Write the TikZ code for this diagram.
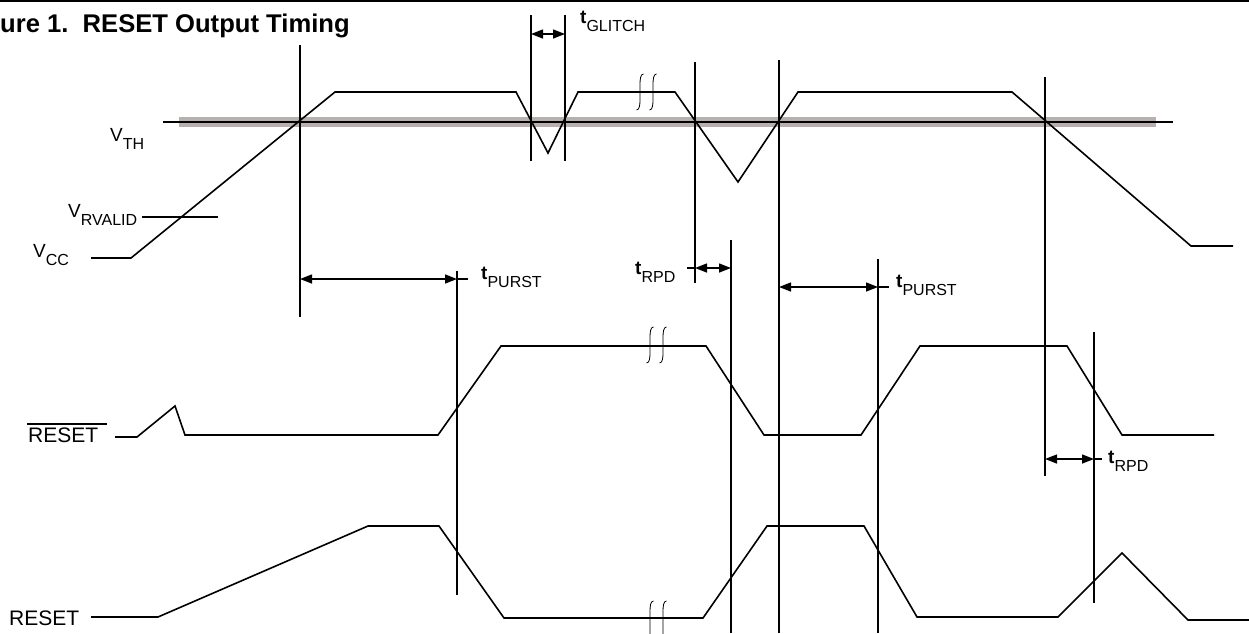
\documentclass[tikz,border=0pt]{standalone}
\usepackage{fontspec}
\setmainfont{Liberation Sans}
\usetikzlibrary{arrows.meta}
\newcommand\msub[2]{#1\raisebox{-8pt}{\fontsize{16}{16}\selectfont #2}}
\newcommand\tsub[2]{\textbf{#1}\raisebox{-8pt}{\fontsize{16}{16}\selectfont #2}}
\definecolor{bandgray}{RGB}{184,176,176}
\tikzset{
  wave/.style={line width=1.6pt, line join=miter},
  vline/.style={line width=1.6pt},
  dim/.style={line width=1.4pt, {Triangle[length=12pt,width=9pt]}-{Triangle[length=12pt,width=9pt]}},
  ext/.style={line width=1.4pt},
  lbl/.style={anchor=base west, inner sep=0pt, font=\fontsize{19}{19}\selectfont},
  big/.style={anchor=base west, inner sep=0pt, font=\fontsize{21}{21}\selectfont},
  brk/.style={line width=0.8pt}
}
\newcommand\breakmark[3]{%
  \draw[brk] (#1+3.5,#2) .. controls (#1+0.5,#2) and (#1,#2+5) .. (#1,#2+11) -- (#1,#3-11) .. controls (#1,#3-5) and (#1-0.5,#3) .. (#1-3.5,#3);}
\begin{document}
\begin{tikzpicture}[x=1pt,y=-1pt]
\useasboundingbox (0,0) rectangle (1249,633);
% top rule and title
\draw[line width=2pt] (0,1) -- (1249,1);
\node[anchor=base west, inner sep=0pt, font=\fontsize{25.6}{26}\selectfont\bfseries] (title) at (0,32) {ure 1.\ \ RESET Output Timing};

% threshold band
\fill[bandgray] (179,117) rectangle (1156,127);
\draw[line width=1.5pt] (163,122) -- (1173,122);

% labels
\node[lbl] (vth) at (110,141) {\msub{V}{TH}};
\node[lbl] (vrv) at (68,217) {\msub{V}{RVALID}};
\node[lbl] (vcc) at (33,257) {\msub{V}{CC}};
\node[big] (rstb) at (28,442) {RESET};
\draw[line width=1.3pt] (27,424) -- (107,424);
\node[big] (rst) at (9,625) {RESET};

% VRVALID level
\draw[line width=1.5pt] (142,217) -- (218,217);

% VCC waveform
\draw[wave] (91,258) -- (131,258) -- (335,92) -- (516,92) -- (548,153) -- (578,92)
  -- (675,92) -- (738,182) -- (798,92) -- (1012,92) -- (1191,246) -- (1233,246);
\breakmark{640}{74}{110}
\breakmark{653}{74}{110}

% RESET-bar waveform
\draw[wave] (115,437) -- (137,437) -- (175,406) -- (185,435) -- (438,435) -- (501,346)
  -- (706,346) -- (764,435) -- (861,435) -- (920,346) -- (1067,346) -- (1122,435) -- (1214,435);
\breakmark{650}{327}{363}
\breakmark{663}{327}{363}

% RESET waveform
\draw[wave] (91,617) -- (158,617) -- (368,526) -- (439,526) -- (504,618) -- (703,618)
  -- (767,526) -- (864,526) -- (917,617) -- (1058,617) -- (1122,553) -- (1188,620) -- (1249,620);
\breakmark{650}{601}{642}
\breakmark{663}{601}{642}

% vertical reference lines
\coordinate (a1) at (300,45);   \coordinate (a2) at (300,317);
\coordinate (g1) at (531,15);   \coordinate (g2) at (531,161);
\coordinate (h1) at (565,15);   \coordinate (h2) at (565,161);
\coordinate (p1) at (457,271);  \coordinate (p2) at (457,595);
\coordinate (r1) at (695,62);   \coordinate (r2) at (695,283);
\coordinate (s1) at (731,240);  \coordinate (s2) at (731,633);
\coordinate (b1) at (779,60);   \coordinate (b2) at (779,633);
\coordinate (q1) at (878,259);  \coordinate (q2) at (878,633);
\coordinate (c1) at (1045,77);  \coordinate (c2) at (1045,476);
\coordinate (d1) at (1094,332); \coordinate (d2) at (1094,603);
\foreach \u/\w in {a1/a2,g1/g2,h1/h2,p1/p2,r1/r2,s1/s2,b1/b2,q1/q2,c1/c2,d1/d2}
  \draw[vline] (\u) -- (\w);

% dimension arrows
\draw[dim] (531,34) -- (565,34);
\node[lbl] (tg) at (580,23) {\tsub{t}{GLITCH}};

\draw[dim] (300,279) -- (457,279);
\draw[ext] (457,279) -- (468,279);
\node[lbl] (tp1) at (481,279) {\tsub{t}{PURST}};

\draw[dim] (695,268) -- (731,268);
\draw[ext] (687,268) -- (695,268);
\node[lbl] (tr1) at (635,274) {\tsub{t}{RPD}};

\draw[dim] (779,287) -- (878,287);
\draw[ext] (878,287) -- (889,287);
\node[lbl] (tp2) at (896,287) {\tsub{t}{PURST}};

\draw[dim] (1045,459) -- (1094,459);
\draw[ext] (1094,459) -- (1102,459);
\node[lbl] (tr2) at (1108,463) {\tsub{t}{RPD}};
\end{tikzpicture}
\end{document}
